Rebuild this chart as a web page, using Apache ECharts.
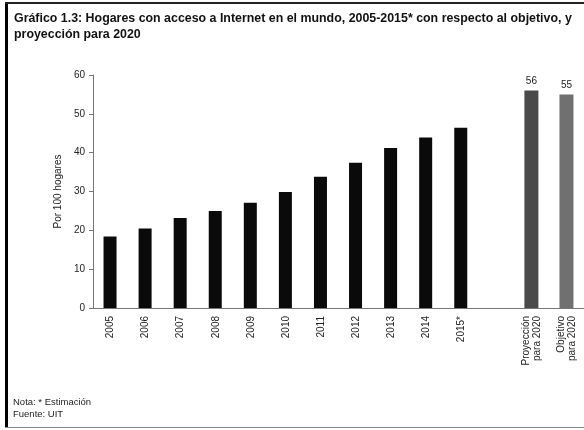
<!DOCTYPE html>
<html><head><meta charset="utf-8">
<script src="https://cdn.jsdelivr.net/npm/echarts@6/dist/echarts.min.js"></script>
<style>html,body{margin:0;padding:0;background:#fff}#c{width:584px;height:430px}</style>
</head><body><div id="c"></div>
<script>
const categories = ['2005','2006','2007','2008','2009','2010','2011','2012','2013','2014','2015*','','Proyección\npara 2020','Objetivo\npara 2020'];
const historical = [18.4,20.5,23.2,25.0,27.1,29.9,33.8,37.4,41.2,43.9,46.4];
const projection2020 = 56;
const target2020 = 55;
const yTicks = [0,10,20,30,40,50,60];

const histData = historical.map(v => v);
while (histData.length < categories.length) histData.push('-');
const projData = categories.map((c,i) => i === 12 ? projection2020 : '-');
const targData = categories.map((c,i) => i === 13 ? target2020 : '-');

const chart = echarts.init(document.getElementById('c'));
const font = 'Liberation Sans';
chart.setOption({
  animation: false,
  textStyle: {fontFamily: font},
  title: {
    text: 'Gráfico 1.3: Hogares con acceso a Internet en el mundo, 2005-2015* con respecto al objetivo, y\nproyección para 2020',
    left: 9, top: 6,
    textStyle: {fontSize: 12.4, fontWeight: 'bold', color: '#111', lineHeight: 16, fontFamily: font}
  },
  graphic: [
    {type:'rect', shape:{x:5,y:2,width:3,height:426}, style:{fill:'#000'}},
    {type:'rect', shape:{x:5,y:2,width:579,height:2}, style:{fill:'#222'}},
    {type:'rect', shape:{x:5,y:427,width:579,height:1}, style:{fill:'#888'}},
    {type:'text', left: 13, top: 396, style:{text:'Nota: * Estimación\nFuente: UIT', fontSize: 9.5, lineHeight: 12, fill:'#222', fontFamily: font}}
  ],
  grid: {left: 93, top: 75, width: 497, height: 233},
  xAxis: {
    type: 'category', data: categories,
    axisLine: {lineStyle: {color: '#777', width: 1}},
    axisTick: {show: false},
    axisLabel: {rotate: 90, fontSize: 10, color: '#222', interval: 0, margin: 8, lineHeight: 11}
  },
  yAxis: {
    type: 'value', min: 0, max: 60, interval: 10,
    name: 'Por 100 hogares', nameLocation: 'middle', nameGap: 30, nameRotate: 90,
    nameTextStyle: {fontSize: 10, color: '#222'},
    axisLine: {show: true, lineStyle: {color: '#777'}},
    axisTick: {show: true, length: 4, lineStyle: {color: '#777'}},
    axisLabel: {fontSize: 10, color: '#222', margin: 8,
      formatter: v => yTicks.includes(v) ? String(v) : ''},
    splitLine: {show: false}
  },
  series: [
    {type:'bar', data: histData, barWidth: 13, barGap: '-100%', itemStyle:{color:'#0a0a0a'}},
    {type:'bar', data: projData, barWidth: 14, barGap: '-100%', itemStyle:{color:'#4a4a4a'},
      label:{show:true, position:'top', fontSize: 10, color:'#222', distance: 4}},
    {type:'bar', data: targData, barWidth: 14, barGap: '-100%', itemStyle:{color:'#707070'},
      label:{show:true, position:'top', fontSize: 10, color:'#222', distance: 4}}
  ]
});
</script></body></html>
